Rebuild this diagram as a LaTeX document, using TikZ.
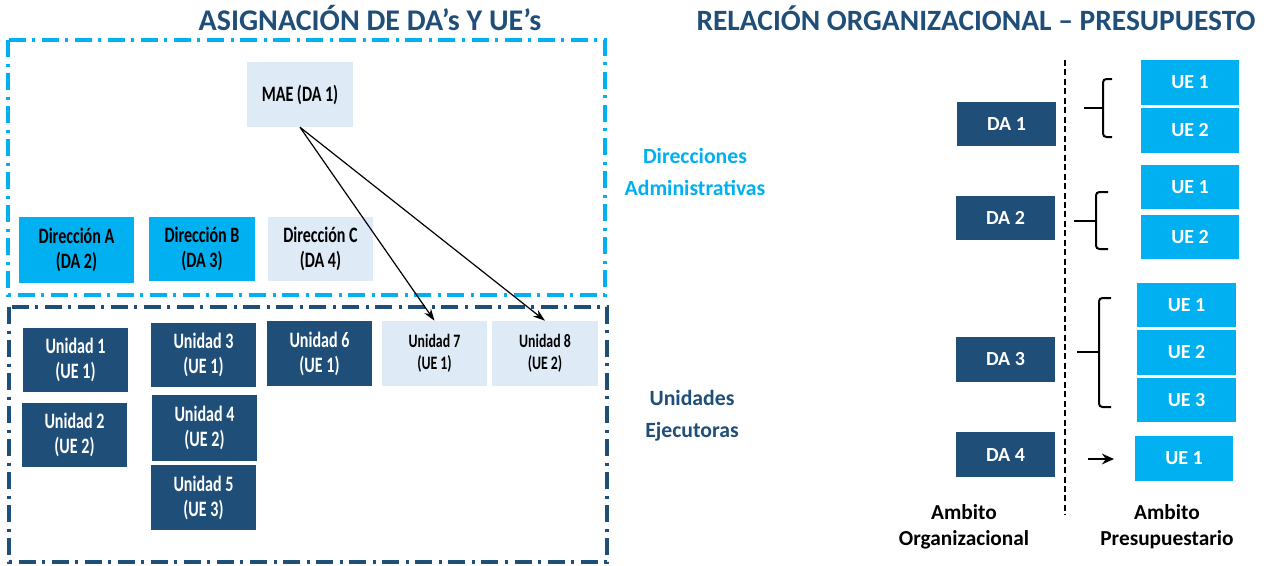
\documentclass[tikz,border=0pt]{standalone}
\usepackage{fontspec}
\setmainfont{Carlito}
\newfontfamily\condf[FakeStretch=0.73]{Carlito}
\usetikzlibrary{arrows.meta}
\definecolor{dblue}{HTML}{1F4E79}
\definecolor{lblue}{HTML}{00B0F0}
\definecolor{pale}{HTML}{DEEBF7}
\newcommand\mybox[7]{\node[#6, minimum width={(#4-#2)*0.75pt}, minimum height={(#5-#3)*0.75pt}] (#1) at ({(#2+#4)/2},{(#3+#5)/2}) {#7};}
\begin{document}
\begin{tikzpicture}[x=0.75pt,y=-0.75pt,
  lbase/.style={inner sep=0pt, align=center, font=\condf\bfseries\fontsize{16.5}{18.75}\selectfont},
  dirA/.style={lbase, fill=lblue, text=black},
  dirpale/.style={lbase, fill=pale, text=black},
  unidad/.style={lbase, fill=dblue, text=white},
  unipale/.style={inner sep=0pt, align=center, fill=pale, text=black, font=\condf\bfseries\fontsize{14.2}{16.5}\selectfont},
  rda/.style={inner sep=0pt, fill=dblue, text=white, font=\bfseries\fontsize{15}{17}\selectfont},
  rue/.style={inner sep=0pt, fill=lblue, text=white, font=\bfseries\fontsize{15}{17}\selectfont},
  frame/.style={line width=2.3pt, dash pattern=on 12.75pt off 4.9pt on 2.25pt off 4.9pt},
  arr/.style={line width=0.9pt, -{Stealth[length=9pt,width=6pt]}},
  brc/.style={line width=1.5pt, rounded corners=2.5pt},
  ttl/.style={text=dblue, font=\bfseries\fontsize{22.5}{26}\selectfont, anchor=base, inner sep=0pt},
  ttlr/.style={ttl, font=\bfseries\fontsize{22.1}{26}\selectfont},
  side/.style={align=center, inner sep=0pt, font=\bfseries\fontsize{16.3}{24}\selectfont},
  amb/.style={align=center, inner sep=0pt, text=black, font=\bfseries\fontsize{16}{19.5}\selectfont}
]
\useasboundingbox (0,0) rectangle (1270,565);

% titles
\node[ttl] (t1) at (370,30) {ASIGNACIÓN DE DA’s Y UE’s};
\node[ttlr] (t2) at (976,30) {RELACIÓN ORGANIZACIONAL – PRESUPUESTO};

% frames
\draw[frame, draw=lblue] (8,40) rectangle (605,295);
\draw[frame, draw=dblue] (9,307) rectangle (607,562);

% left boxes
\mybox{mae}{247}{62}{353}{127}{dirpale}{MAE (DA 1)}
\mybox{da}{19}{217}{134}{283}{dirA}{Dirección A\\(DA 2)}
\mybox{db}{149}{217}{255}{281}{dirA}{Dirección B\\(DA 3)}
\mybox{dc}{268}{217}{373}{281}{dirpale}{Dirección C\\(DA 4)}

\mybox{u1}{23}{328}{128}{392}{unidad}{Unidad 1\\(UE 1)}
\mybox{u2}{22}{403}{127}{467}{unidad}{Unidad 2\\(UE 2)}
\mybox{u3}{151}{323}{256}{387}{unidad}{Unidad 3\\(UE 1)}
\mybox{u4}{152}{395}{257}{461}{unidad}{Unidad 4\\(UE 2)}
\mybox{u5}{151}{465}{256}{530}{unidad}{Unidad 5\\(UE 3)}
\mybox{u6}{267}{321}{372}{386}{unidad}{Unidad 6\\(UE 1)}
\mybox{u7}{382}{321}{487}{386}{unipale}{Unidad 7\\(UE 1)}
\mybox{u8}{492}{321}{598}{386}{unipale}{Unidad 8\\(UE 2)}

\draw[arr] (mae.south) -- (u7.north);
\draw[arr] (mae.south) -- (u8.north);

% side labels
\node[side, text=lblue] (dirlab) at (695,172) {Direcciones\\Administrativas};
\node[side, text=dblue] (unilab) at (692,416) {Unidades\\Ejecutoras};

% right part
\coordinate (dtop) at (1065,60);
\coordinate (dbot) at (1065,515);
\draw[line width=1.4pt, dash pattern=on 4.5pt off 2.6pt] (dtop) -- (dbot);

\mybox{r1}{957}{102}{1056}{146}{rda}{DA 1}
\mybox{r2}{956}{196}{1055}{240}{rda}{DA 2}
\mybox{r3}{956}{337}{1055}{382}{rda}{DA 3}
\mybox{r4}{956}{432}{1055}{477}{rda}{DA 4}

\mybox{e11}{1141}{60}{1239}{105}{rue}{UE 1}
\mybox{e12}{1141}{108}{1239}{153}{rue}{UE 2}
\mybox{e21}{1141}{165}{1239}{209}{rue}{UE 1}
\mybox{e22}{1141}{215}{1239}{259}{rue}{UE 2}
\mybox{e31}{1137}{283}{1236}{327}{rue}{UE 1}
\mybox{e32}{1137}{330}{1236}{375}{rue}{UE 2}
\mybox{e33}{1137}{378}{1236}{422}{rue}{UE 3}
\mybox{e41}{1135}{436}{1233}{481}{rue}{UE 1}

% braces
\draw[brc] (1112,79) -- (1103,79) -- (1103,137) -- (1112,137);
\draw[line width=1.5pt] (1084,108) -- (1103,108);
\draw[brc] (1108,192) -- (1096,192) -- (1096,249) -- (1108,249);
\draw[line width=1.5pt] (1074,221) -- (1096,221);
\draw[brc] (1111,298) -- (1099,298) -- (1099,407) -- (1111,407);
\draw[line width=1.5pt] (1077,352) -- (1099,352);

\coordinate (a4s) at (1088,459);
\coordinate (a4e) at (1114,459);
\draw[line width=1.6pt, -{Stealth[length=9pt,width=8pt]}] (a4s) -- (a4e);

\node[amb] (ambo) at (964,527) {Ambito\\Organizacional};
\node[amb] (ambp) at (1167,527) {Ambito\\Presupuestario};
\end{tikzpicture}
\end{document}
